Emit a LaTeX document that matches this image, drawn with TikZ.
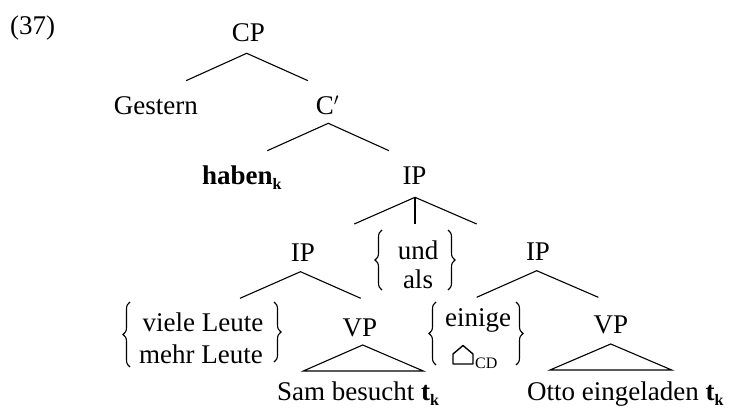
\documentclass[tikz,border=0pt]{standalone}
\usepackage{fontspec}
\setmainfont{Liberation Serif}
\usetikzlibrary{decorations.pathreplacing}
\newcommand{\subk}{\raisebox{-5pt}{\fontsize{16}{16}\selectfont\bfseries k}}
\begin{document}
\begin{tikzpicture}[x=1pt,y=-1pt,
  lbl/.style={inner sep=0pt,anchor=base,font=\fontsize{27}{29}\selectfont},
  lblw/.style={lbl,anchor=base west},
  edge/.style={line width=1.1pt},
  brc/.style={line width=1.1pt,decorate,decoration={brace,amplitude=7pt}}]
\useasboundingbox (0,0) rectangle (731,409);
% labels
\node[lblw] (ex) at (10,35) {(37)};
\node[lbl] (cp) at (248.5,41.5) {CP};
\node[lbl] (gestern) at (155.8,115) {Gestern};
\node[lbl] (cbar) at (327.5,115) {C$'$};
\node[lblw] (haben) at (202,185) {\textbf{haben}\subk};
\node[lbl] (ip) at (414.5,185) {IP};
\node[lbl] (und) at (418,259) {und};
\node[lbl] (als) at (418,288) {als};
\node[lbl] (ipl) at (303,261) {IP};
\node[lbl] (ipr) at (538,260) {IP};
\node[lbl] (viele) at (203,331.5) {viele Leute};
\node[lbl] (mehr) at (201,363) {mehr Leute};
\node[lbl] (vpl) at (360,336) {VP};
\node[lbl] (einige) at (478,326) {einige};
\node[inner sep=0pt,anchor=base west,font=\fontsize{16}{16}\selectfont] (cd) at (475,368) {CD};
\node[lbl] (vpr) at (611,333) {VP};
\node[lblw] (sam) at (277,400) {Sam besucht \textbf{t}\subk};
\node[lblw] (otto) at (527,400) {Otto eingeladen \textbf{t}\subk};
% line end points
\coordinate (cpA) at (246.7,53.3);
\coordinate (cpL) at (186,80.7);
\coordinate (cpR) at (308,80.7);
\coordinate (cbA) at (328.3,123.3);
\coordinate (cbL) at (267.3,150.7);
\coordinate (cbR) at (389,150.7);
\coordinate (ipA) at (415,197.3);
\coordinate (ipL) at (354.3,224);
\coordinate (ipM) at (415,224);
\coordinate (ipR) at (476.7,224);
\coordinate (iplA) at (300.5,271.7);
\coordinate (iplL) at (240,298.3);
\coordinate (iplR) at (360.7,298.3);
\coordinate (iprA) at (536.7,270.7);
\coordinate (iprL) at (476.7,297.3);
\coordinate (iprR) at (598.3,297.3);
\coordinate (vplA) at (362.7,345);
\coordinate (vplL) at (303.3,371);
\coordinate (vplR) at (423.3,371);
\coordinate (vprA) at (610.7,344);
\coordinate (vprL) at (550,370);
\coordinate (vprR) at (671.7,370);
% branches
\draw[edge] (cpL) -- (cpA) -- (cpR);
\draw[edge] (cbL) -- (cbA) -- (cbR);
\draw[edge] (ipL) -- (ipA) -- (ipR);
\draw[edge] (ipA) -- (ipM);
\draw[edge] (iplL) -- (iplA) -- (iplR);
\draw[edge] (iprL) -- (iprA) -- (iprR);
\draw[edge,line join=miter] (vplA) -- (vplL) -- (vplR) -- cycle;
\draw[edge,line join=miter] (vprA) -- (vprL) -- (vprR) -- cycle;
% braces
\draw[brc] (130,367) -- (130,302);
\draw[brc] (274,302) -- (274,362);
\draw[brc] (382,290) -- (382,230);
\draw[brc] (448,230) -- (448,290);
\draw[brc] (436,365) -- (436,302);
\draw[brc] (516,302) -- (516,365);
% empty-category symbol
\draw[line width=1.4pt,line join=round] (453,364) -- (453,354) -- (463,345.5) -- (473,354) -- (473,364) -- cycle;
\end{tikzpicture}
\end{document}
